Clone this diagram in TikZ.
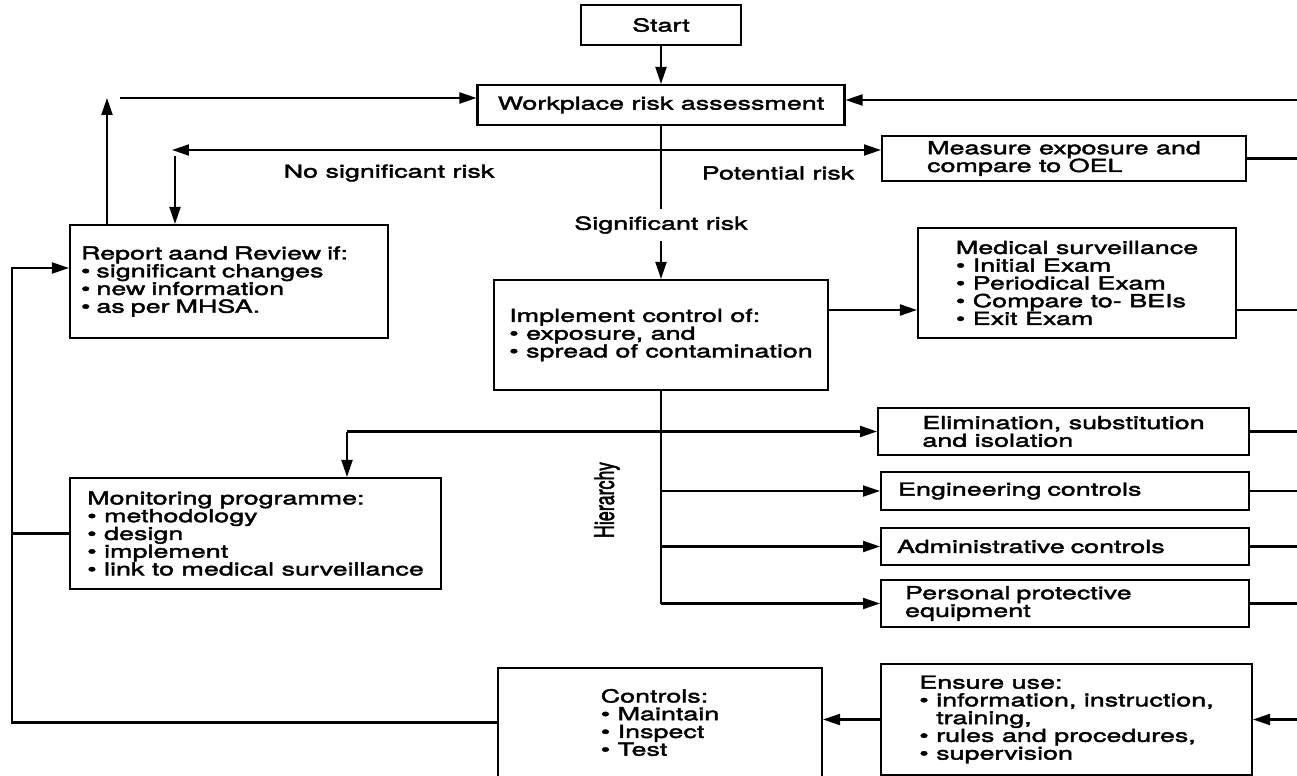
\documentclass[tikz,border=0pt]{standalone}
\usepackage{fontspec}
\setmainfont{TeX Gyre Heros}[FakeStretch=1.5, FakeBold=2.2]
\newfontfamily\hierfont{TeX Gyre Heros}[FakeBold=2.2]
\usetikzlibrary{arrows.meta}
\newcommand{\bul}{\textbullet\ }

\begin{document}
\begin{tikzpicture}
[
    x=0.02cm, y=-0.02cm,
    >={Triangle[length=0.34cm, width=0.22cm]},
    every node/.style={font=\fontsize{10.2}{10.1}\selectfont},
    box/.style={draw, line width=1.2pt, align=left, inner sep=0pt},
    link/.style={line width=1.15pt},
    arr/.style={line width=1.15pt, ->},
]
\useasboundingbox (0,0) rectangle (1297,776);
\coordinate (redge) at (1297,0);

\node[box, minimum width=3.2cm, minimum height=0.8cm] (start) at (661,25) {Start};
\node[box, minimum width=7.34cm, minimum height=0.8cm] (workplace) at (661,105) {Workplace risk assessment};
\node[box, minimum width=6.36cm, minimum height=2.26cm, text width=5.92cm] (report) at (229,281.5)
    {Report aand Review if:\\\bul significant changes\\\bul new information\\\bul as per MHSA.};
\node[box, minimum width=7.28cm, minimum height=0.9cm] (measure) at (1064,158.5)
    {Measure exposure and\\compare to OEL};
\node[box, minimum width=6.36cm, minimum height=2.2cm] (medical) at (1077,283)
    {Medical surveillance\\\bul Initial Exam\\\bul Periodical Exam\\\bul Compare to- BEIs\\\bul Exit Exam};
\node[box, minimum width=6.68cm, minimum height=2.2cm] (implement) at (661,335)
    {Implement control of:\\\bul exposure, and\\\bul spread of contamination};
\node[box, minimum width=7.42cm, minimum height=0.94cm] (elim) at (1063.5,431.5)
    {Elimination, substitution\\and isolation};
\node[box, minimum width=7.36cm, minimum height=0.76cm, text width=6.68cm] (eng) at (1065,491)
    {Engineering controls};
\node[box, minimum width=7.36cm, minimum height=0.74cm, text width=6.72cm] (admin) at (1065,546.5)
    {Administrative controls};
\node[box, minimum width=7.36cm, minimum height=0.94cm, text width=6.4cm] (ppe) at (1065,603.5)
    {Personal protective\\equipment};
\node[box, minimum width=7.42cm, minimum height=2.22cm] (monitor) at (255.5,533.5)
    {Monitoring programme:\\\bul methodology\\\bul design\\\bul implement\\\bul link to medical surveillance};
\node[box, minimum width=6.48cm, minimum height=2.18cm] (controls) at (660,722.5)
    {Controls:\\\bul Maintain\\\bul Inspect\\\bul Test};
\node[box, minimum width=7.42cm, minimum height=2.22cm] (ensure) at (1066.5,719.5)
    {Ensure use:\\\bul information, instruction,\\\phantom{\bul}training,\\\bul rules and procedures,\\\bul supervision};

\node (nosig) at (389,173) {No significant risk};
\node (potential) at (778,173) {Potential risk};
\node[inner sep=0.15cm] (sig) at (661,225) {Significant risk};
\node[rotate=90, yscale=1.5, font=\hierfont\fontsize{10.2}{10.1}\selectfont] (hier) at (607,500) {Hierarchy};

\coordinate (wrow) at (0,100);
\coordinate (nsr) at (172,150);
\coordinate (nsrd) at (175,156);
\coordinate (up) at (107,98);
\coordinate (upr) at (120,98);
\coordinate (fb) at (12,268);
\coordinate (mrow) at (0,310);
\coordinate (mbr) at (347,431.5);

\draw[arr] (start) -- (workplace);
\draw[arr] (redge |- wrow) -- (workplace.east |- wrow);
\draw[link] (workplace) -- (sig);
\draw[arr] (sig) -- (implement);
\draw[link, <->] (nsr) -- (nsr -| measure.west);
\draw[arr] (nsrd) -- (nsrd |- report.north);
\draw[arr] (up |- report.north) -- (up);
\draw[arr] (upr) -- (upr -| workplace.west);
\draw[link] (measure.east) -- (measure.east -| redge);

\draw[arr] (implement.east |- mrow) -- (medical.west |- mrow);
\draw[link] (medical.east |- mrow) -- (redge |- mrow);

\draw[link] (implement.south) -- (implement.south |- ppe.west);
\draw[arr] (mbr) -- (elim.west);
\draw[arr] (mbr) -- (mbr |- monitor.north);
\draw[arr] (implement.south |- eng.west) -- (eng.west);
\draw[arr] (implement.south |- admin.west) -- (admin.west);
\draw[arr] (implement.south |- ppe.west) -- (ppe.west);
\draw[link] (elim.east) -- (elim.east -| redge);
\draw[link] (eng.east) -- (eng.east -| redge);
\draw[link] (admin.east) -- (admin.east -| redge);
\draw[link] (ppe.east) -- (ppe.east -| redge);

\draw[arr] (redge |- ensure.east) -- (ensure.east);
\draw[arr] (ensure.west) -- (ensure.west -| controls.east);
\draw[arr] (controls.west) -| (fb) -- (fb -| report.west);
\draw[link] (monitor.west) -- (monitor.west -| fb);
\end{tikzpicture}
\end{document}
